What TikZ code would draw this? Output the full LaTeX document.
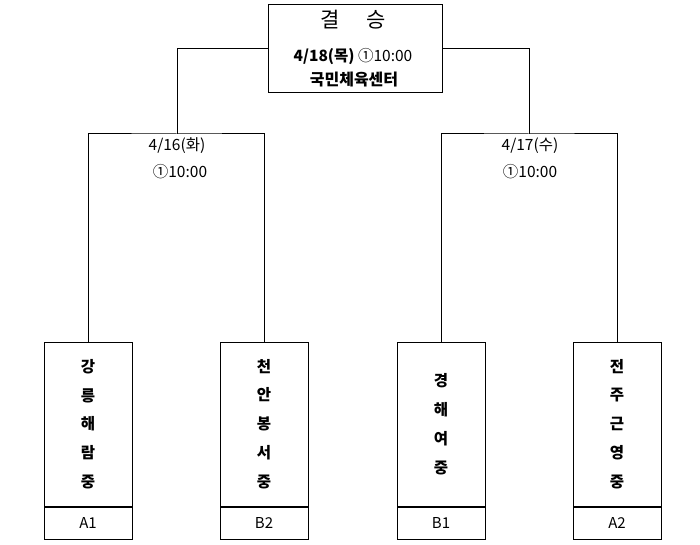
\documentclass[tikz,border=0pt]{standalone}
\usepackage{fontspec}
\setmainfont{Noto Sans CJK KR}
\begin{document}
\begin{tikzpicture}[x=1pt,y=-1pt,
  line/.style={draw=black,line width=1pt},
  teambox/.style={line,rectangle,minimum width=88pt,minimum height=164pt,inner sep=0pt,align=center,
     font=\bfseries\fontsize{15.5}{28.8}\selectfont},
  seedbox/.style={line,rectangle,minimum width=88pt,minimum height=32pt,inner sep=0pt,
     font=\fontsize{15}{16}\selectfont},
  datelbl/.style={inner sep=0pt,font=\fontsize{15.5}{17}\selectfont},
  finalbox/.style={line,rectangle,minimum width=174pt,minimum height=88pt,inner sep=0pt}]
\useasboundingbox (0,0) rectangle (700,545);
% final box
\node[finalbox] (final) at (355,49) {};
\node[inner sep=0pt,font=\fontsize{21}{22}\selectfont] (ftitle) at (353,20) {결\hspace{26pt}승};
\node[inner sep=0pt,font=\fontsize{15.5}{17}\selectfont] (fdate) at (353,57) {\textbf{4/18(목)} ①10:00};
\node[inner sep=0pt,font=\bfseries\fontsize{16}{17}\selectfont] (fplace) at (354,80) {국민체육센터};
% team boxes
\node[teambox] (t1) at (88,424) {강\\릉\\해\\람\\중};
\node[teambox] (t2) at (264,424) {천\\안\\봉\\서\\중};
\node[teambox] (t3) at (441,424) {경\\해\\여\\중};
\node[teambox] (t4) at (617,424) {전\\주\\근\\영\\중};
\node[seedbox,anchor=north] (s1) at (t1.south) {A1};
\node[seedbox,anchor=north] (s2) at (t2.south) {B2};
\node[seedbox,anchor=north] (s3) at (t3.south) {B1};
\node[seedbox,anchor=north] (s4) at (t4.south) {A2};
% semifinal junctions
\coordinate (semiL) at (177,134);
\coordinate (semiR) at (529,134);
\draw[line] (t1.north) |- (semiL) -| (t2.north);
\draw[line] (t3.north) |- (semiR) -| (t4.north);
\draw[line] (semiL) |- (final.west);
\draw[line] (semiR) |- (final.east);
% semifinal labels
\node[datelbl] (dL) at (177,146) {4/16(화)};
\node[datelbl] (tL) at (180,172) {①10:00};
\node[datelbl] (dR) at (530,146) {4/17(수)};
\node[datelbl] (tR) at (530,172) {①10:00};
\end{tikzpicture}
\end{document}
